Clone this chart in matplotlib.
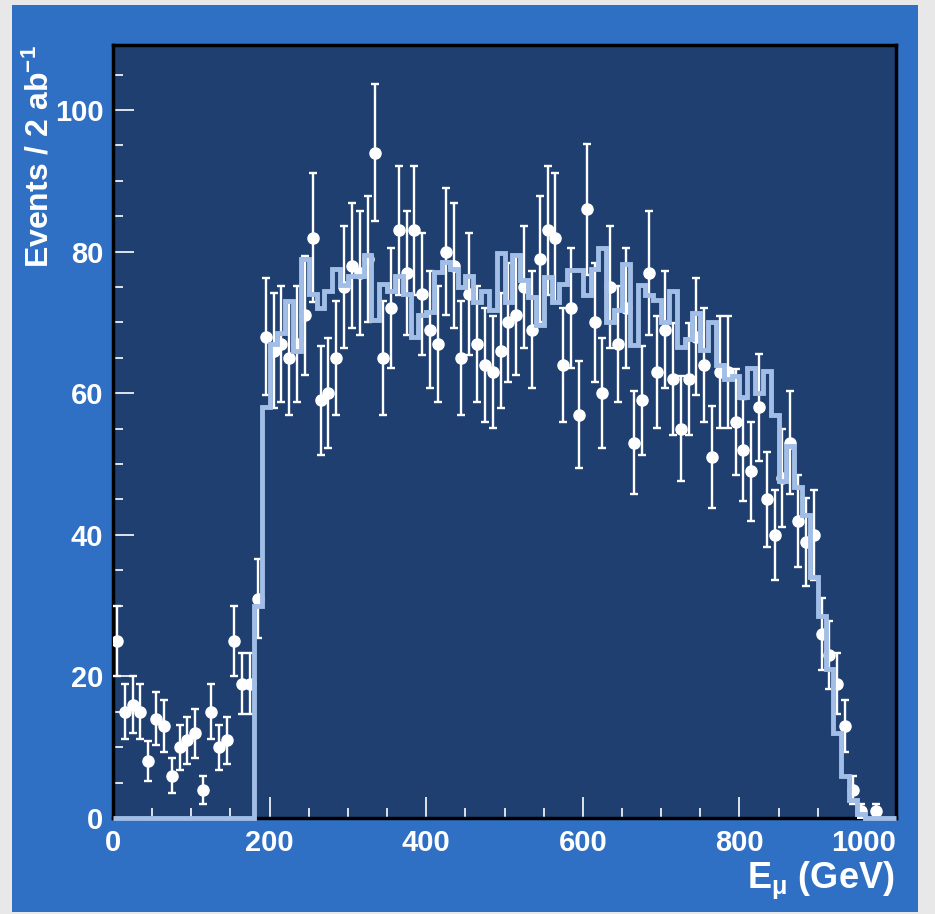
import numpy as np
import matplotlib.pyplot as plt
from matplotlib.patches import Rectangle

# Muon energy spectrum in 10 GeV bins, 0 - 1000 GeV
bin_lo = 0
bin_hi = 1000
bin_width = 10

# observed events per bin
events = [25, 15, 16, 15, 8, 14, 13, 6, 10, 11,
          12, 4, 15, 10, 11, 25, 19, 19, 31, 68,
          66, 67, 65, 67, 71, 82, 59, 60, 65, 75,
          78, 77, 79, 94, 65, 72, 83, 77, 83, 74,
          69, 67, 80, 78, 65, 74, 67, 64, 63, 66,
          70, 71, 75, 69, 79, 83, 82, 64, 72, 57,
          86, 70, 60, 75, 67, 72, 53, 59, 77, 63,
          69, 62, 55, 62, 68, 64, 51, 63, 63, 56,
          52, 49, 58, 45, 40, 48, 53, 42, 39, 40,
          26, 23, 19, 13, 4, 1, 0, 1, 0, 0]

# expected events per bin (simulation)
expected = [0, 0, 0, 0, 0, 0, 0, 0, 0, 0,
            0, 0, 0, 0, 0, 0, 0, 0, 30, 58,
            67, 68.5, 73, 66, 79, 74, 72, 74.5, 77.5, 75.3,
            76.5, 76.5, 79.5, 70.3, 75.5, 74.5, 76.5, 74, 68, 71,
            71.5, 77.2, 78.6, 77.6, 75, 76.6, 72.9, 74.5, 71.8, 79.8,
            72.9, 79.5, 76, 73.6, 69.6, 76.4, 72.9, 75.4, 77.4, 77.4,
            73.9, 77.6, 80.5, 70.1, 71.8, 78.3, 66.8, 75.3, 73.9, 73.2,
            70.1, 74.4, 66.6, 67.7, 71.3, 66.1, 70, 64, 62, 62.5,
            59.5, 63.5, 60, 63.2, 57, 47.6, 52.6, 46.8, 42.8, 34,
            28.5, 21, 12, 6, 2.5, 0.5, 0, 0, 0, 0]

x_ticks = [0, 200, 400, 600, 800, 1000]
y_ticks = [0, 20, 40, 60, 80, 100]

panel_blue = '#2f70c4'
frame_navy = '#203f71'
hist_blue = '#a2bee7'

plt.rcParams['font.family'] = ['Liberation Sans Narrow', 'Liberation Sans', 'DejaVu Sans']
plt.rcParams['font.weight'] = 'bold'
plt.rcParams['mathtext.fontset'] = 'custom'
plt.rcParams['mathtext.rm'] = 'Liberation Sans:bold'
plt.rcParams['mathtext.it'] = 'Liberation Sans:bold'
plt.rcParams['mathtext.bf'] = 'Liberation Sans:bold'

fig = plt.figure(figsize=(9.35, 9.14), dpi=100, facecolor='#e8e8e8')
panel = Rectangle((0.013, 0.002), 0.969, 0.993, transform=fig.transFigure,
                  facecolor=panel_blue, edgecolor='none', zorder=-5)
fig.add_artist(panel)

ax = fig.add_axes([0.1209, 0.1050, 0.8374, 0.8458])
ax.set_zorder(1)
ax.set_facecolor(frame_navy)

edges = np.arange(bin_lo, bin_hi + bin_width, bin_width)
centres = edges[:-1] + bin_width / 2
counts = np.array(events, dtype=float)
filled = counts > 0

# data points with poisson errors
ax.errorbar(centres[filled], counts[filled], yerr=np.sqrt(counts[filled]),
            fmt='o', color='white', ms=8, elinewidth=1.7,
            capsize=2.6, capthick=1.7, zorder=3)
# simulation drawn as a step outline on top
ax.stairs(expected, edges, color=hist_blue, lw=3.5, zorder=4, clip_on=False)

ax.set_xlim(bin_lo, bin_hi)
ax.set_ylim(0, 109.2)

ax.set_xticks(x_ticks, labels=[str(v) for v in x_ticks])
ax.set_xticks(np.arange(0, 1001, 50), minor=True)
ax.set_yticks(y_ticks, labels=[str(v) for v in y_ticks])
ax.set_yticks(np.arange(0, 106, 5), minor=True)
ax.tick_params(which='both', direction='in', colors='white', top=False, right=False)
ax.tick_params(which='major', length=15, width=1.2, labelsize=21)
ax.tick_params(axis='x', which='major', pad=8)
ax.tick_params(axis='y', which='major', pad=7)
ax.tick_params(which='minor', length=7, width=1.2)
# keep the last x label inside the frame
ax.xaxis.get_major_ticks()[-1].label1.set_horizontalalignment('right')

for side in ['top', 'right', 'left', 'bottom']:
    ax.spines[side].set_color('black')
    ax.spines[side].set_linewidth(2.5)
ax.axvline(0, color='white', lw=1.3, zorder=2.5)
ax.axhline(0, color='white', lw=1.3, zorder=2.5)

fig.text(895 / 935, 1 - 880 / 914, r'E$_{\mu}$ (GeV)', ha='right', va='center',
         fontsize=26, color='white')
fig.text(40 / 935, 1 - 45 / 914, r'Events / 2 ab$^{-1}$', rotation=90,
         ha='center', va='top', fontsize=23, color='white',
         family=['Liberation Sans', 'DejaVu Sans'])

fig.savefig('out.png', dpi=100, facecolor=fig.get_facecolor())
